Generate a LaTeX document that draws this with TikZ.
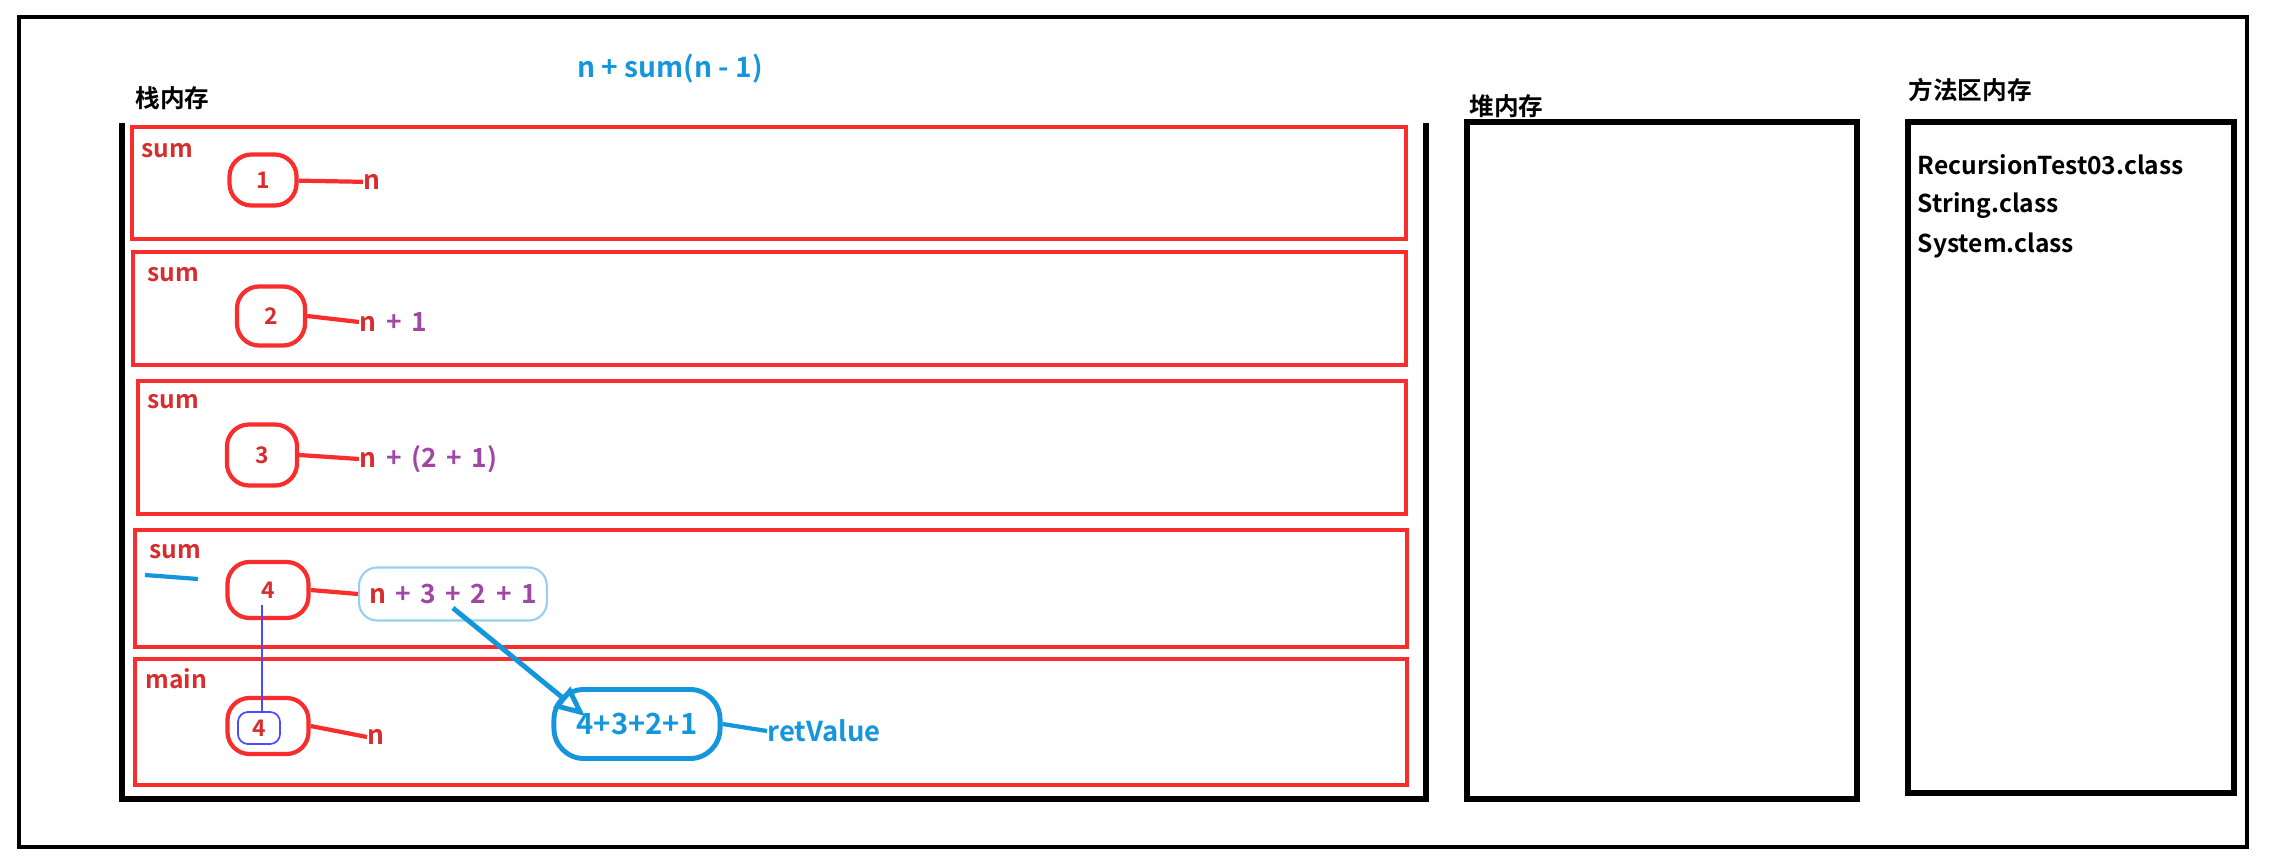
\documentclass[tikz,border=0pt]{standalone}
\usepackage{fontspec}
\setmainfont{Noto Sans CJK SC}[BoldFont={Noto Sans CJK SC Bold}]
\newfontfamily\exprfont{Noto Sans CJK SC}[BoldFont={Noto Sans CJK SC Bold}, WordSpace=1.6]
\usetikzlibrary{arrows.meta, positioning}
\definecolor{framered}{RGB}{250,45,45}
\definecolor{labelred}{RGB}{215,45,45}
\definecolor{exprpurple}{RGB}{160,70,165}
\definecolor{callblue}{RGB}{20,150,220}
\tikzset{
  frm/.style={draw=framered, line width=1.3pt},
  mem/.style={draw=black, line width=1.7pt},
  val/.style={rectangle, rounded corners=2.2mm, draw=framered, line width=1.2pt,
              minimum width=6.8mm, minimum height=5.4mm, inner sep=0pt,
              text=labelred, font=\bfseries\fontsize{6.5}{7}\selectfont},
  lbl/.style={anchor=west, inner sep=0pt, font=\bfseries\fontsize{7}{8}\selectfont},
  expr/.style={lbl, text=labelred, font=\exprfont\bfseries\fontsize{7.5}{8}\selectfont},
  e/.style={line width=1.2pt, framered},
  b/.style={line width=1.2pt, callblue},
}
\begin{document}
\begin{tikzpicture}[x=0.01cm, y=-0.01cm]
  \useasboundingbox (0,0) rectangle (2270,864);
  \draw[line width=1.3pt] (19,17) rectangle (2247,847);
  \node[lbl, anchor=center, text=callblue, font=\bfseries\fontsize{8}{9}\selectfont] (ttl) at (670,69) {n + sum(n - 1)};

  % stack
  \node[lbl] (stk) at (135,98) {栈内存};
  \draw[mem] (122,123) -- (122,799) -- (1426,799) -- (1426,123);
  \draw[frm] (132,127) rectangle (1406,239);
  \draw[frm] (133,252) rectangle (1406,365);
  \draw[frm] (138,381) rectangle (1406,514);
  \draw[frm] (135,530) rectangle (1407,647);
  \draw[frm] (135,659) rectangle (1407,785);
  \node[lbl, text=labelred] (f1) at (141,151) {sum};
  \node[lbl, text=labelred] (f2) at (147,275) {sum};
  \node[lbl, text=labelred] (f3) at (147,402) {sum};
  \node[lbl, text=labelred] (f4) at (149,552) {sum};
  \node[lbl, text=labelred] (f5) at (145,679) {main};
  \draw[b] (145,575) -- (198,579);

  \node[val, minimum width=6.7mm, minimum height=5.1mm] (v1) at (263,180) {1};
  \node[val, minimum height=5.9mm] (v2) at (271,316) {2};
  \node[val, minimum width=7mm, minimum height=6.1mm] (v3) at (262,455) {3};
  \node[val, minimum width=8.1mm, minimum height=5.6mm] (v4) at (268,590) {4};
  \node[val, minimum width=8.1mm, minimum height=5.6mm] (v5) at (268,726) {};
  \node[val, draw=blue!70, line width=0.5pt, rounded corners=1mm,
        minimum width=4.2mm, minimum height=3.2mm] (i5) at (259,728) {4};
  \coordinate (t4) at (262,605);

  \node[expr] (x1) at (363,182) {n};
  \node[expr] (x2) at (359,322) {n \textcolor{exprpurple}{+ 1}};
  \node[expr] (x3) at (359,459) {n \textcolor{exprpurple}{+ (2 + 1)}};
  \node[expr, draw=callblue!45, line width=0.6pt, rounded corners=1.8mm,
        inner xsep=1mm, minimum height=5.3mm] (x4) at (358,594)
        {n \textcolor{exprpurple}{+ 3 + 2 + 1}};
  \node[expr] (x5) at (367,737) {n};
  \draw[e] (v1) -- (x1);
  \draw[e] (v2.east) -- (x2.west);
  \draw[e] (v3.east) -- (x3.west);
  \draw[e] (v4.east) -- (x4.west);
  \draw[e] (v5.east) -- (x5.west);
  \draw[blue!70, line width=0.5pt] (t4) -- (t4 |- i5.north);

  \node[val, draw=callblue, text=callblue, line width=1.4pt, rounded corners=3mm,
        minimum width=16.6mm, minimum height=6.9mm,
        font=\bfseries\fontsize{8.3}{9}\selectfont] (ret) at (637,724) {4+3+2+1};
  \node[lbl, text=callblue, font=\bfseries\fontsize{7.8}{9}\selectfont] (rv) at (767,731) {retValue};
  \draw[b] (ret.east) -- (rv.west);
  \draw[b, line width=1.4pt, -{Triangle[open, length=3mm, width=2.6mm]}]
    ([yshift=-1.4mm]x4.center) -- ([xshift=-5.2mm, yshift=0.8mm]ret.center);

  % heap
  \node[lbl] (hp) at (1469,106) {堆内存};
  \draw[mem] (1467,122) rectangle (1857,799);

  % method area
  \node[lbl] (ma) at (1908,90) {方法区内存};
  \draw[mem] (1908,122) rectangle (2234,793);
  \node[lbl] (c1) at (1917,165) {RecursionTest03.class};
  \node[lbl] (c2) at (1917,206) {String.class};
  \node[lbl] (c3) at (1917,245) {System.class};
\end{tikzpicture}
\end{document}
